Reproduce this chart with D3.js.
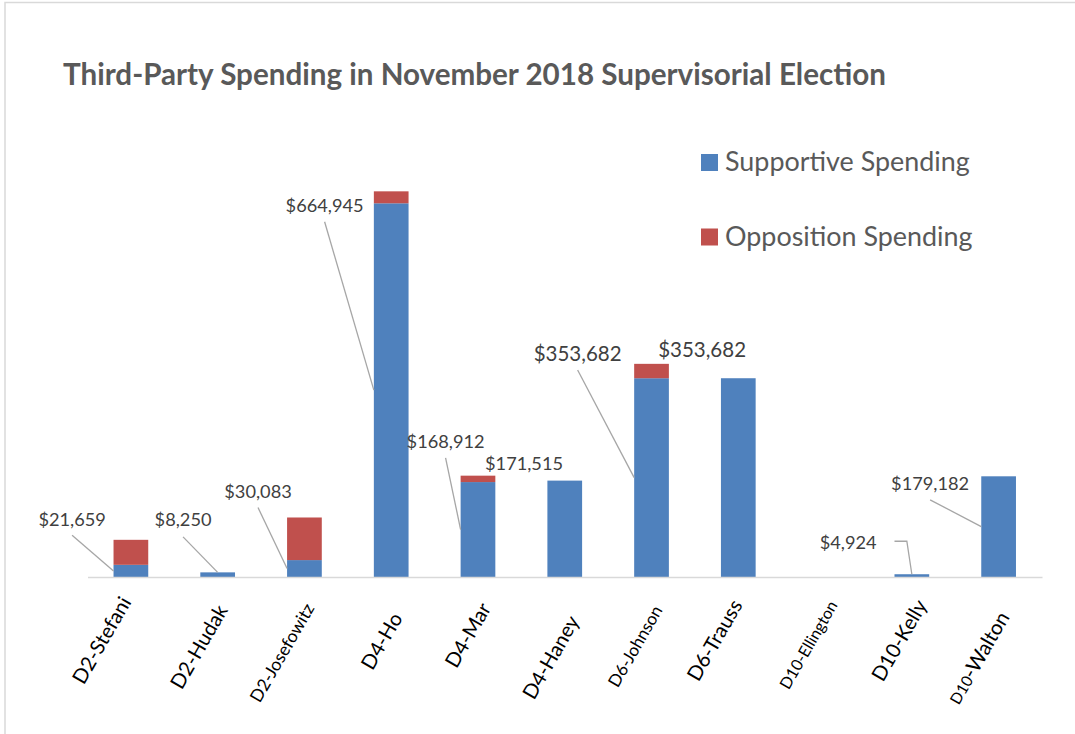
<!DOCTYPE html>
<html>
<head>
<meta charset="utf-8">
<script src="https://cdn.jsdelivr.net/npm/d3@7"></script>
<style>
  body { margin: 0; background: #fff; }
  svg { display: block; }
  text { font-family: Lato, "Open Sans", sans-serif; }
</style>
</head>
<body>
<svg id="chart" width="1075" height="734"></svg>
<script>
// Third-party spending per candidate, November 2018 supervisorial election
const candidates = ["D2-Stefani", "D2-Hudak", "D2-Josefowitz", "D4-Ho", "D4-Mar", "D4-Haney",
                    "D6-Johnson", "D6-Trauss", "D10-Ellington", "D10-Kelly", "D10-Walton"];
const supportive = [21659, 8250, 30083, 664945, 168912, 171515, 353682, 353682, 0, 4924, 179182];
const opposition = [44500, 0, 75800, 21300, 11400, 0, 25600, 0, 0, 0, 0];
const seriesNames = ["Supportive Spending", "Opposition Spending"];

// ---- presentation settings ----
const colors = { supportive: "#4F81BD", opposition: "#C0504D" };

// data label placement relative to (bar centre, top of supportive segment)
const labelPlacement = {
  "D2-Stefani":    { dx: -58.8, dy: -39,   leader: "edge" },
  "D2-Hudak":      { dx: -34.6, dy: -46,   leader: "top" },
  "D2-Josefowitz": { dx: -46.4, dy: -62,   leader: "edge" },
  "D4-Ho":         { dx: -66.6, dy: 9,     leader: "edge" },
  "D4-Mar":        { dx: -32.4, dy: -33.7, leader: "edge" },
  "D4-Haney":      { dx: -40.7, dy: -11,   leader: "none" },
  "D6-Johnson":    { dx: -73.9, dy: -17.7, leader: "edge", big: true },
  "D6-Trauss":     { dx: -36.2, dy: -21.7, leader: "none", big: true },
  "D10-Kelly":     { dx: -63.7, dy: -25,   leader: "elbow" },
  "D10-Walton":    { dx: -68.5, dy: 14,    leader: "edge" }
};

// category label styling: anchor nudge and font size for each name
const tickStyle = {
  "D2-Stefani":    { dx: 1,    y: 602, size: 20.3 },
  "D2-Hudak":      { dx: 10.7, y: 610, size: 20.3 },
  "D2-Josefowitz": { dx: 10.6, y: 608, size: 17.5 },
  "D4-Ho":         { dx: 12,   y: 618, size: 20.3 },
  "D4-Mar":        { dx: 13.8, y: 608, size: 20.3 },
  "D4-Haney":      { dx: 15.3, y: 621, size: 20.3 },
  "D6-Johnson":    { dx: 11.6, y: 610, size: 17.1 },
  "D6-Trauss":     { dx: 4.8,  y: 605, size: 20.3 },
  "D10-Ellington": { dx: 13,   y: 605, size: 16.1 },
  "D10-Kelly":     { dx: 16,   y: 605, size: 20.3 },
  "D10-Walton":    { dx: 11.5, y: 617, size: 20.5, prefixSize: 15.5 }
};

const svg = d3.select("#chart");

// chart frame
svg.append("path")
  .attr("d", "M5,740 V2.5 H1080")
  .attr("fill", "none")
  .attr("stroke", "#d9d9d9")
  .attr("stroke-width", 1.5);

// title
svg.append("text")
  .attr("x", 63).attr("y", 85)
  .attr("font-size", 29.6).attr("font-weight", 700)
  .attr("fill", "#595959")
  .text("Third-Party Spending in November 2018 Supervisorial Election");

// scales
const x = d3.scaleBand()
  .domain(candidates)
  .range([87.5, 1042])
  .paddingInner(0.6)
  .paddingOuter(0.3);

const y = d3.scaleLinear()
  .domain([0, 800000])
  .range([577, 127.4]);

// stacked rows
const rows = candidates.map((c, i) => ({ name: c, supportive: supportive[i], opposition: opposition[i] }));
const stacked = d3.stack().keys(["supportive", "opposition"])(rows);

// bars
svg.append("g")
  .selectAll("g")
  .data(stacked)
  .join("g")
  .attr("fill", d => colors[d.key])
  .selectAll("rect")
  .data(d => d.filter(s => s[1] - s[0] > 0))
  .join("rect")
  .attr("x", d => x(d.data.name))
  .attr("width", x.bandwidth())
  .attr("y", d => y(d[1]))
  .attr("height", d => y(d[0]) - y(d[1]));

// category axis
const axis = svg.append("g")
  .attr("transform", `translate(0,${y(0)})`)
  .call(d3.axisBottom(x).tickSize(0).tickSizeOuter(0).tickFormat(""));
axis.select(".domain").attr("stroke", "#d9d9d9").attr("stroke-width", 1.5);

const tickLayer = svg.append("g");
candidates.forEach(name => {
  const st = tickStyle[name];
  const cx = x(name) + x.bandwidth() / 2 + st.dx;
  const t = tickLayer.append("text")
    .attr("transform", `translate(${cx},${st.y}) rotate(-60)`)
    .attr("text-anchor", "end")
    .attr("fill", "#000")
    .attr("font-size", st.size);
  if (st.prefixSize) {
    const parts = name.split("-");
    t.append("tspan").attr("font-size", st.prefixSize).text(parts[0]);
    t.append("tspan").text("-" + parts[1]);
  } else {
    t.text(name);
  }
});

// data labels with leader lines
const fmt = d3.format("$,");
const labelLayer = svg.append("g");
candidates.forEach((name, i) => {
  const p = labelPlacement[name];
  if (!p || supportive[i] <= 0) return;
  const cx = x(name) + x.bandwidth() / 2;
  const left = x(name);
  const top = y(supportive[i]);
  const mid = (y(0) + top) / 2;
  const lx = cx + p.dx, ly = top + p.dy;
  const size = p.big ? 20.5 : 18.2;
  labelLayer.append("text")
    .attr("x", lx).attr("y", ly)
    .attr("text-anchor", "middle")
    .attr("font-size", size)
    .attr("fill", "#404040")
    .text(fmt(supportive[i]));
  let d = null;
  if (p.leader === "edge") d = `M${lx},${ly + 9.5} L${left},${mid}`;
  else if (p.leader === "top") d = `M${lx},${ly + 10.5} L${cx},${top}`;
  else if (p.leader === "elbow") d = `M${left},${ly - 8} H${cx - 5} L${cx},${top}`;
  if (d) {
    svg.append("path")
      .attr("d", d)
      .attr("fill", "none")
      .attr("stroke", "#a6a6a6")
      .attr("stroke-width", 1.3);
  }
});
labelLayer.raise();

// legend
const legend = svg.append("g");
seriesNames.forEach((s, i) => {
  const key = i === 0 ? "supportive" : "opposition";
  const gy = 171 + i * 74.5;
  legend.append("rect")
    .attr("x", 701).attr("y", gy - 17)
    .attr("width", 17).attr("height", 17)
    .attr("fill", colors[key]);
  legend.append("text")
    .attr("x", 725).attr("y", gy)
    .attr("font-size", 26.9)
    .attr("fill", "#595959")
    .text(s);
});
</script>
</body>
</html>
